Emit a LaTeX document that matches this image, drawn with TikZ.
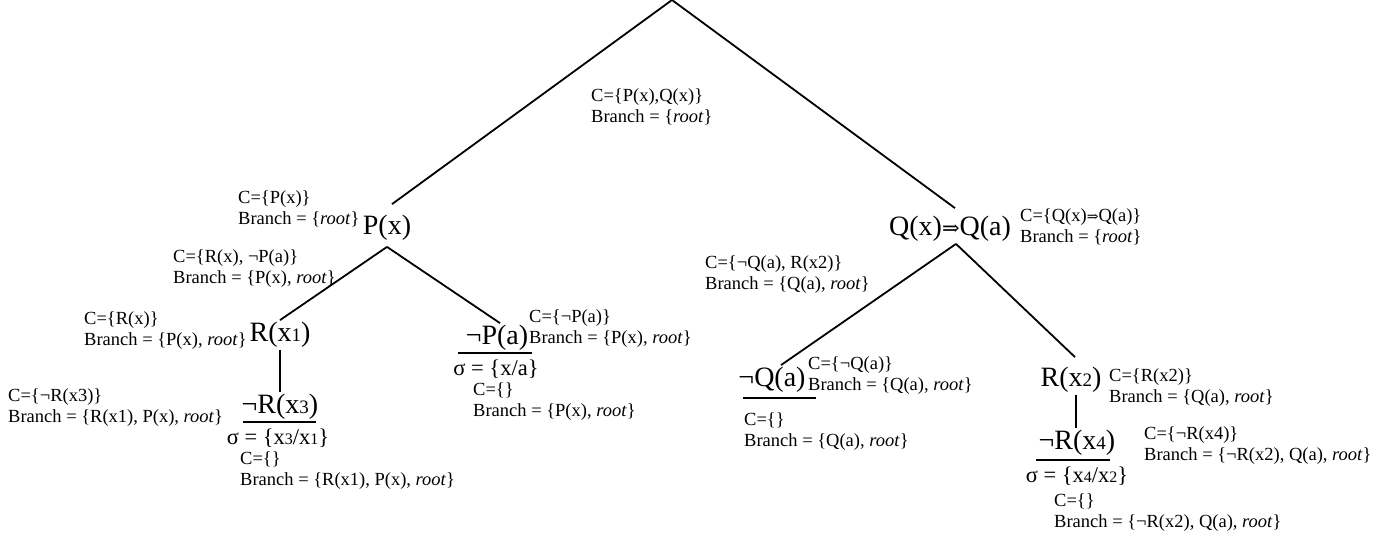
\documentclass[tikz,border=0pt]{standalone}
\usepackage{fontspec}
\setmainfont{Liberation Serif}
\newfontfamily\dvsf{DejaVu Serif}
\newcommand{\sd}[1]{{\fontsize{19}{19}\selectfont #1}}
\newcommand{\ssd}[1]{{\fontsize{16}{16}\selectfont #1}}
\begin{document}
\begin{tikzpicture}[x=1pt,y=-1pt,
  big/.style={inner sep=2pt, font=\fontsize{28}{32}\selectfont},
  sig/.style={inner sep=0pt, font=\fontsize{22.5}{26}\selectfont},
  lab/.style={inner sep=0pt, align=left, anchor=west, font=\fontsize{18.5}{21}\selectfont},
  edge/.style={line width=1.8pt}]
\useasboundingbox (0,0) rectangle (1389,542);
\coordinate (root) at (672,0);
% formula nodes
\node[big] (px)   at (387,228) {P(x)};
\node[big] (qq)   at (950,229) {Q(x){\dvsf\fontsize{21}{26}\selectfont ⇒}Q(a)};
\node[big] (rx1)  at (280,335) {R(x\sd{1})};
\node[big] (npa)  at (497,338) {¬P(a)};
\node[big] (nrx3) at (280,407) {¬R(x\sd{3})};
\node[big] (nqa)  at (772,380) {¬Q(a)};
\node[big] (rx2)  at (1071,380) {R(x\sd{2})};
\node[big] (nrx4) at (1077,443) {¬R(x\sd{4})};
% substitutions
\node[sig] (s3) at (278,438) {σ = \{x\ssd{3}/x\ssd{1}\}};
\node[sig] (sa) at (496,369) {σ = \{x/a\}};
\node[sig] (s4) at (1077,476) {σ = \{x\ssd{4}/x\ssd{2}\}};
% connectors
\draw[edge] (root) -- ([xshift=5pt,yshift=9pt]px.north);
\draw[edge] (root) -- ([xshift=5pt,yshift=6pt]qq.north);
\draw[edge] ([yshift=-4pt]px.south) -- (rx1.north);
\draw[edge] ([yshift=-4pt]px.south) -- ([xshift=3pt]npa.north);
\draw[edge] (rx1.south) -- (rx1.south |- nrx3.north);
\draw[edge] ([xshift=6pt]qq.south) -- ([xshift=9pt]nqa.north);
\draw[edge] ([xshift=6pt]qq.south) -- ([xshift=4pt,yshift=8pt]rx2.north);
\draw[edge] ([xshift=5pt]rx2.south) -- ([xshift=5pt]rx2.south |- nrx4.north);
% underlines
\draw[edge] (243,422) -- (316,422);
\draw[edge] (458,353) -- (532,353);
\draw[edge] (743,398) -- (816,398);
\draw[edge] (1036,460) -- (1110,460);
% labels
\node[lab] (l0) at (591,107) {C=\{P(x),Q(x)\}\\Branch = \{\textit{root}\}};
\node[lab] (l1) at (238,209) {C=\{P(x)\}\\Branch = \{\textit{root}\}};
\node[lab] (l2) at (173,269) {C=\{R(x), ¬P(a)\}\\Branch = \{P(x), \textit{root}\}};
\node[lab] (l3) at (84,331) {C=\{R(x)\}\\Branch = \{P(x), \textit{root}\}};
\node[lab] (l4) at (8,408) {C=\{¬R(x3)\}\\Branch = \{R(x1), P(x), \textit{root}\}};
\node[lab] (l5) at (240,471) {C=\{\}\\Branch = \{R(x1), P(x), \textit{root}\}};
\node[lab] (l6) at (529,329) {C=\{¬P(a)\}\\Branch = \{P(x), \textit{root}\}};
\node[lab] (l7) at (473,402) {C=\{\}\\Branch = \{P(x), \textit{root}\}};
\node[lab] (l8) at (1020,227) {C=\{Q(x){\dvsf\fontsize{14}{14}\selectfont ⇒}Q(a)\}\\Branch = \{\textit{root}\}};
\node[lab] (l9) at (705,275) {C=\{¬Q(a), R(x2)\}\\Branch = \{Q(a), \textit{root}\}};
\node[lab] (l10) at (808,376) {C=\{¬Q(a)\}\\Branch = \{Q(a), \textit{root}\}};
\node[lab] (l11) at (744,432) {C=\{\}\\Branch = \{Q(a), \textit{root}\}};
\node[lab] (l12) at (1109,388) {C=\{R(x2)\}\\Branch = \{Q(a), \textit{root}\}};
\node[lab] (l13) at (1144,446) {C=\{¬R(x4)\}\\Branch = \{¬R(x2), Q(a), \textit{root}\}};
\node[lab] (l14) at (1054,513) {C=\{\}\\Branch = \{¬R(x2), Q(a), \textit{root}\}};
\end{tikzpicture}
\end{document}
